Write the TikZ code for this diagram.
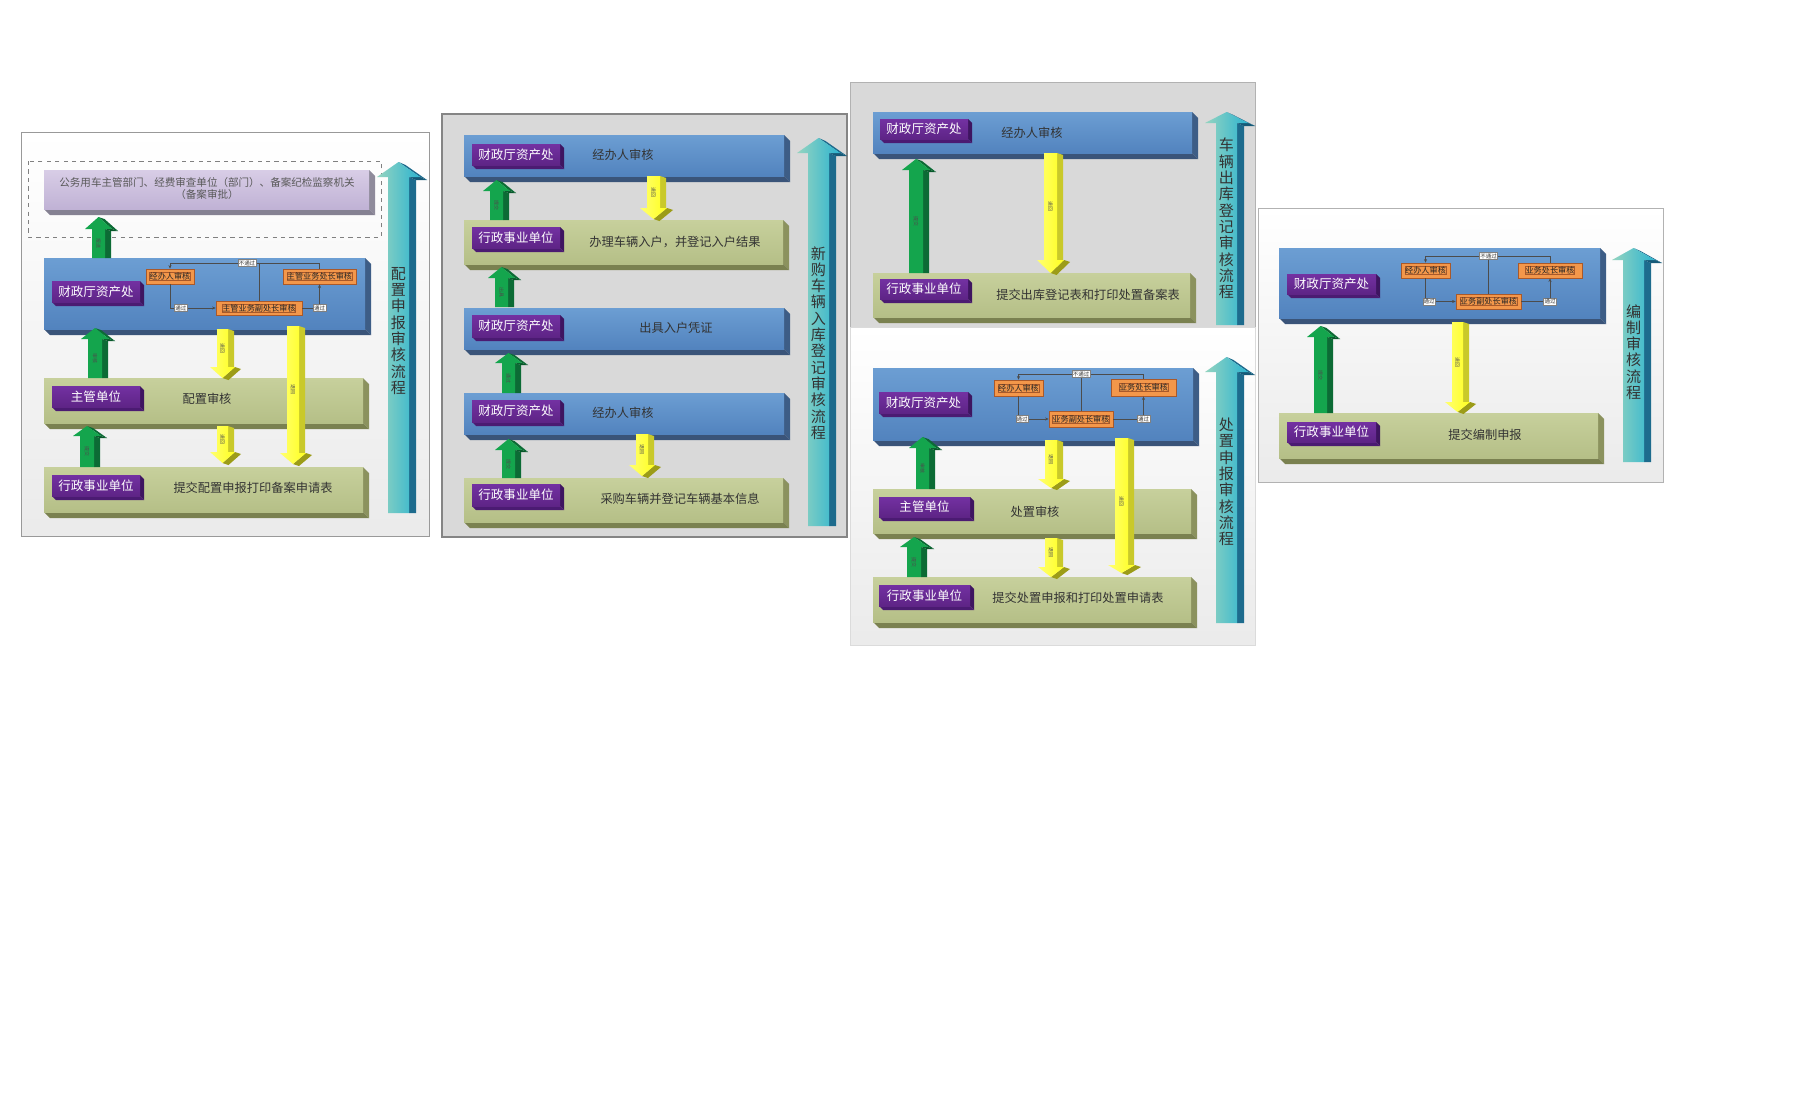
\documentclass[tikz,border=0pt]{standalone}
\usepackage{fontspec}
\setmainfont{Noto Sans CJK SC}
\usetikzlibrary{arrows.meta,fit,calc}

% face colours: T = top of front face, F = bottom of front face, S = right side, B = underside
\definecolor{blueT}{HTML}{6C9ED3}\definecolor{blueF}{HTML}{5283BE}
\definecolor{blueS}{HTML}{3D5D86}\definecolor{blueB}{HTML}{3A5479}
\definecolor{greenT}{HTML}{C7D09C}\definecolor{greenF}{HTML}{B5BF87}
\definecolor{greenS}{HTML}{8B925E}\definecolor{greenB}{HTML}{7A8150}
\definecolor{purpT}{HTML}{7331A2}\definecolor{purpF}{HTML}{5E2486}
\definecolor{purpS}{HTML}{3E1560}\definecolor{purpB}{HTML}{4B1B72}
\definecolor{lavT}{HTML}{D8CDE6}\definecolor{lavF}{HTML}{C0B2D5}
\definecolor{lavS}{HTML}{8F8B9B}\definecolor{lavB}{HTML}{858192}
\definecolor{orangeF}{HTML}{F3974A}\definecolor{orangeD}{HTML}{A9592A}
\definecolor{gF}{HTML}{14A54D}\definecolor{gS}{HTML}{0C6B35}\definecolor{gD}{HTML}{08572A}
\definecolor{yL}{HTML}{FFFF70}\definecolor{yF}{HTML}{FFFF1E}
\definecolor{yS}{HTML}{C9C92A}\definecolor{yD}{HTML}{9C9C18}
\definecolor{tL}{HTML}{95D4C0}\definecolor{tR}{HTML}{2CB4D0}
\definecolor{tS}{HTML}{1D6B8D}\definecolor{tD}{HTML}{165A78}

\tikzset{
  lbl/.style={text=white, font=\fontsize{8.9}{10}\selectfont, inner sep=0pt},
  body/.style={text=black!80, font=\fontsize{8.7}{10}\selectfont, inner sep=0pt},
  obox/.style={fill=orangeF, draw=orangeD, line width=0.4pt, inner sep=0pt,
    font=\fontsize{5.8}{6.5}\selectfont, text=black!85},
  tag/.style={fill=white, draw=gray, line width=0.3pt, inner sep=0.6pt,
    font=\fontsize{3.9}{4.5}\selectfont, text=black!80},
  flow/.style={draw=black!70, line width=0.5pt},
  tipped/.style={-{Stealth[length=2.6pt,width=2.2pt]}},
  arrlbl/.style={rotate=-90, font=\fontsize{3.5}{4}\selectfont, inner sep=0pt, text=black!70},
  vtext/.style={align=center, font=\fontsize{10.7}{11.6}\selectfont, text=black!80, inner sep=0pt},
}

% extruded slab: name, x1, y1, x2, y2, depth, colour prefix
\newcommand{\slab}[7]{%
  \fill[#7S] (#4,#3) -- (#4+#6,#3+#6) -- (#4+#6,#5+#6) -- (#4,#5) -- cycle;
  \fill[#7B] (#2,#5) -- (#4,#5) -- (#4+#6,#5+#6) -- (#2+#6,#5+#6) -- cycle;
  \shade[top color=#7T, bottom color=#7F] (#2,#3) rectangle (#4,#5);
  \node[fit={(#2,#3) (#4,#5)}, inner sep=0pt] (#1) {};
}

% green block arrow pointing up: name, xl, xr, ybottom, yheadbase, ytip, label
\newcommand{\uparr}[7]{%
  \fill[gS] (#3,#5) -- (#3+6,#5+2) -- (#3+6,#4) -- (#3,#4) -- cycle;
  \fill[gS] ({(#2+#3)/2},#6) -- ({(#2+#3)/2+6},#6+2) -- (#3+13,#5+2) -- (#3+7,#5) -- cycle;
  \fill[gD] (#3+7,#5) -- (#3+13,#5+2) -- (#3+6,#5+2) -- (#3,#5) -- cycle;
  \fill[gF] (#2,#4) -- (#2,#5) -- (#2-7,#5) -- ({(#2+#3)/2},#6) -- (#3+7,#5) -- (#3,#5) -- (#3,#4) -- cycle;
  \node[arrlbl] (#1) at ({(#2+#3)/2},{(#4+#5)/2}) {#7};
}

% yellow block arrow pointing down: name, xl, xr, ytop, yheadbase, ytip, label
\newcommand{\dnarr}[7]{%
  \fill[yS] (#3,#4) -- (#3+6,#4+2) -- (#3+6,#5+2) -- (#3,#5) -- cycle;
  \fill[yD] ({(#2+#3)/2},#6) -- (#3+7,#5) -- (#3+13,#5+2) -- ({(#2+#3)/2+6},#6+2) -- cycle;
  \shade[left color=yL, right color=yF] (#2,#4) -- (#3,#4) -- (#3,#5) -- (#3+7,#5) -- ({(#2+#3)/2},#6) -- (#2-7,#5) -- (#2,#5) -- cycle;
  \node[arrlbl] (#1) at ({(#2+#3)/2},{(#4+#5)/2}) {#7};
}

% large teal process arrow: name, xl, xr, ybottom, yheadbase, ytip
\newcommand{\flowarr}[6]{%
  \fill[tS] (#3,#5) -- (#3+7,#5+3) -- (#3+7,#4) -- (#3,#4) -- cycle;
  \fill[tS] ({(#2+#3)/2},#6) -- ({(#2+#3)/2+7},#6+3) -- (#3+18,#5+3) -- (#3+11,#5) -- cycle;
  \fill[tD] (#3+11,#5) -- (#3+18,#5+3) -- (#3+7,#5+3) -- (#3,#5) -- cycle;
  \shade[left color=tL, right color=tR] (#2,#4) -- (#2,#5) -- (#2-11,#5) -- ({(#2+#3)/2},#6) -- (#3+11,#5) -- (#3,#5) -- (#3,#4) -- cycle;
  \coordinate (#1) at ({(#2+#3)/2},#4);
}

\begin{document}
\begin{tikzpicture}[x=0.25mm,y=-0.25mm]
\useasboundingbox (0,0) rectangle (1800,1108);
\fill[white] (0,0) rectangle (1800,1108);

%% ---------- 配置申报审核流程 ----------
\shadedraw[top color=white, bottom color=black!8, draw=black!40, line width=0.6pt] (21,132) rectangle (429,536);
\draw[black!50, dashed, line width=0.6pt] (28,161) rectangle (381,237);
\slab{p1lav}{44}{170}{369}{209}{6}{lav}
\node[align=center, text=black!65, font=\fontsize{7.5}{9.2}\selectfont, inner sep=0pt] (p1lavt) at (207,188.5)
  {公务用车主管部门、经费审查单位（部门）、备案纪检监察机关\\（备案审批）};

\slab{p1blue}{44}{258}{365}{329}{6}{blue}
\slab{p1lb1}{52}{281}{140}{302}{4}{purp}
\node[lbl] (p1lb1t) at (p1lb1) {财政厅资产处};
\node[obox, fit={(146,269) (194,284)}] (p1a) {};
\node[obox] (p1at) at (p1a) {经办人审核};
\node[obox, fit={(283,269) (356,284)}] (p1c) {};
\node[obox] (p1ct) at (p1c) {主管业务处长审核};
\node[obox, fit={(216,301) (302,315)}] (p1b) {};
\node[obox] (p1bt) at (p1b) {主管业务副处长审核};
\coordinate (p1top) at (0,263);
\draw[flow,tipped] (p1c.north) -- (p1c.north |- p1top) -- (p1a.north |- p1top) -- (p1a.north);
\draw[flow] (p1b.north) -- (p1b.north |- p1top);
\node[tag] (p1nt) at ($(p1b.north |- p1top)+(-12,0)$) {不通过};
\draw[flow,tipped] (p1a.south) |- node[tag,pos=0.62] (p1y1) {通过} (p1b.west);
\draw[flow,tipped] (p1b.east) -| node[tag,pos=0.5] (p1y2) {通过} (p1c.south);

\slab{p1g1}{44}{378}{363}{423}{6}{green}
\slab{p1lb2}{52}{386}{140}{407}{4}{purp}
\node[lbl] (p1lb2t) at (p1lb2) {主管单位};
\node[body] (p1t1) at (207,399) {配置审核};

\slab{p1g2}{44}{467}{363}{512}{6}{green}
\slab{p1lb3}{52}{475}{140}{496}{4}{purp}
\node[lbl] (p1lb3t) at (p1lb3) {行政事业单位};
\node[body] (p1t2) at (253,488) {提交配置申报打印备案申请表};

\uparr{p1u1}{92}{105}{258}{229}{217}{报送}
\uparr{p1u2}{88}{102}{378}{339}{328}{审核}
\uparr{p1u3}{80}{94}{467}{436}{426}{提交}
\dnarr{p1d1}{217}{228}{329}{367}{378}{退回}
\dnarr{p1d2}{287}{299}{326}{453}{464}{退回}
\dnarr{p1d3}{217}{228}{426}{452}{463}{退回}

\flowarr{p1f}{388}{409}{513}{177}{162}
\node[vtext] (p1ft) at (398.5,331) {配\\置\\申\\报\\审\\核\\流\\程};

%% ---------- 新购车辆入库登记审核流程 ----------
\filldraw[fill=black!15, draw=black!48, line width=1pt] (442,114) rectangle (847,537);
\slab{p2b1}{464}{135}{784}{176}{6}{blue}
\slab{p2l1}{472}{144}{560}{165}{4}{purp}
\node[lbl] (p2l1t) at (p2l1) {财政厅资产处};
\node[body] (p2t1) at (623,155) {经办人审核};

\slab{p2g1}{464}{220}{783}{264}{6}{green}
\slab{p2l2}{472}{227}{560}{248}{4}{purp}
\node[lbl] (p2l2t) at (p2l2) {行政事业单位};
\node[body] (p2t2) at (675,242) {办理车辆入户，并登记入户结果};

\slab{p2b2}{464}{308}{784}{349}{6}{blue}
\slab{p2l3}{472}{315}{560}{337}{4}{purp}
\node[lbl] (p2l3t) at (p2l3) {财政厅资产处};
\node[body] (p2t3) at (676,328) {出具入户凭证};

\slab{p2b3}{464}{393}{784}{434}{6}{blue}
\slab{p2l4}{472}{400}{560}{422}{4}{purp}
\node[lbl] (p2l4t) at (p2l4) {财政厅资产处};
\node[body] (p2t4) at (623,413) {经办人审核};

\slab{p2g2}{464}{478}{783}{522}{6}{green}
\slab{p2l5}{472}{484}{560}{506}{4}{purp}
\node[lbl] (p2l5t) at (p2l5) {行政事业单位};
\node[body] (p2t5) at (680,499) {采购车辆并登记车辆基本信息};

\dnarr{p2d1}{647}{660}{176}{208}{219}{退回}
\uparr{p2u1}{490}{503}{220}{191}{180}{提交}
\uparr{p2u2}{495}{508}{307}{278}{267}{出具}
\uparr{p2u3}{502}{515}{393}{363}{353}{通过}
\dnarr{p2d2}{636}{648}{434}{465}{476}{退回}
\uparr{p2u4}{502}{515}{478}{450}{439}{提交}

\flowarr{p2f}{808}{829}{526}{153}{138}
\node[vtext] (p2ft) at (818.5,343) {新\\购\\车\\辆\\入\\库\\登\\记\\审\\核\\流\\程};

%% ---------- 车辆出库登记审核流程 ----------
\filldraw[fill=black!15, draw=black!30, line width=0.6pt] (850,82) rectangle (1255,327);
\slab{p3b1}{873}{112}{1192}{153}{6}{blue}
\slab{p3l1}{880}{119}{968}{139}{4}{purp}
\node[lbl] (p3l1t) at (p3l1) {财政厅资产处};
\node[body] (p3t1) at (1032,133) {经办人审核};

\slab{p3g1}{873}{273}{1190}{317}{6}{green}
\slab{p3l2}{880}{279}{968}{299}{4}{purp}
\node[lbl] (p3l2t) at (p3l2) {行政事业单位};
\node[body] (p3t2) at (1088,295) {提交出库登记表和打印处置备案表};

\uparr{p3u1}{909}{923}{273}{170}{159}{提交}
\dnarr{p3d1}{1044}{1057}{153}{260}{273}{退回}

\flowarr{p3f}{1216}{1237}{325}{123}{112}
\node[vtext] (p3ft) at (1226.5,218.5) {车\\辆\\出\\库\\登\\记\\审\\核\\流\\程};

%% ---------- 处置申报审核流程 ----------
\shadedraw[top color=white, bottom color=black!8, draw=black!14, line width=0.6pt] (850,327) rectangle (1255,645);
\slab{p4blue}{873}{368}{1193}{440}{6}{blue}
\slab{p4l1}{879}{392}{968}{413}{4}{purp}
\node[lbl] (p4l1t) at (p4l1) {财政厅资产处};
\node[obox, fit={(994,380) (1043,396)}] (p4a) {};
\node[obox] (p4at) at (p4a) {经办人审核};
\node[obox, fit={(1111,379) (1176,396)}] (p4c) {};
\node[obox] (p4ct) at (p4c) {业务处长审核};
\node[obox, fit={(1049,411) (1113,427)}] (p4b) {};
\node[obox] (p4bt) at (p4b) {业务副处长审核};
\coordinate (p4top) at (0,374);
\draw[flow,tipped] (p4c.north) -- (p4c.north |- p4top) -- (p4a.north |- p4top) -- (p4a.north);
\draw[flow] (p4b.north) -- (p4b.north |- p4top);
\node[tag] (p4nt) at (p4b.north |- p4top) {不通过};
\draw[flow,tipped] (p4a.south) |- node[tag,pos=0.56] (p4y1) {通过} (p4b.west);
\draw[flow,tipped] (p4b.east) -| node[tag,pos=0.5] (p4y2) {通过} (p4c.south);

\slab{p4g1}{873}{489}{1191}{533}{6}{green}
\slab{p4l2}{879}{497}{970}{517}{4}{purp}
\node[lbl] (p4l2t) at (p4l2) {主管单位};
\node[body] (p4t1) at (1035,512) {处置审核};

\slab{p4g2}{873}{577}{1191}{622}{6}{green}
\slab{p4l3}{879}{585}{970}{606}{4}{purp}
\node[lbl] (p4l3t) at (p4l3) {行政事业单位};
\node[body] (p4t2) at (1078,598) {提交处置申报和打印处置申请表};

\uparr{p4u1}{916}{929}{489}{448}{437}{审核}
\uparr{p4u2}{907}{921}{577}{547}{537}{提交}
\dnarr{p4d1}{1045}{1057}{440}{479}{488}{退回}
\dnarr{p4d2}{1115}{1128}{438}{565}{573}{退回}
\dnarr{p4d3}{1045}{1057}{538}{567}{577}{退回}

\flowarr{p4f}{1216}{1237}{623}{372}{357}
\node[vtext] (p4ft) at (1226.5,482) {处\\置\\申\\报\\审\\核\\流\\程};

%% ---------- 编制审核流程 ----------
\shadedraw[top color=white, bottom color=black!8, draw=black!30, line width=0.6pt] (1258,208) rectangle (1663,482);
\slab{p5blue}{1279}{248}{1600}{318}{6}{blue}
\slab{p5l1}{1287}{274}{1376}{294}{4}{purp}
\node[lbl] (p5l1t) at (p5l1) {财政厅资产处};
\node[obox, fit={(1401,263) (1450,278)}] (p5a) {};
\node[obox] (p5at) at (p5a) {经办人审核};
\node[obox, fit={(1518,263) (1582,278)}] (p5c) {};
\node[obox] (p5ct) at (p5c) {业务处长审核};
\node[obox, fit={(1456,294) (1521,309)}] (p5b) {};
\node[obox] (p5bt) at (p5b) {业务副处长审核};
\coordinate (p5top) at (0,256);
\draw[flow,tipped] (p5c.north) -- (p5c.north |- p5top) -- (p5a.north |- p5top) -- (p5a.north);
\draw[flow] (p5b.north) -- (p5b.north |- p5top);
\node[tag] (p5nt) at (p5b.north |- p5top) {不通过};
\draw[flow,tipped] (p5a.south) |- node[tag,pos=0.56] (p5y1) {通过} (p5b.west);
\draw[flow,tipped] (p5b.east) -| node[tag,pos=0.5] (p5y2) {通过} (p5c.south);

\slab{p5g1}{1279}{413}{1598}{458}{6}{green}
\slab{p5l2}{1287}{422}{1376}{442}{4}{purp}
\node[lbl] (p5l2t) at (p5l2) {行政事业单位};
\node[body] (p5t1) at (1485,435) {提交编制申报};

\uparr{p5u1}{1314}{1327}{413}{337}{326}{提交}
\dnarr{p5d1}{1452}{1463}{322}{402}{412}{退回}

\flowarr{p5f}{1623}{1644}{462}{260}{248}
\node[vtext] (p5ft) at (1633.5,352) {编\\制\\审\\核\\流\\程};

\end{tikzpicture}
\end{document}
